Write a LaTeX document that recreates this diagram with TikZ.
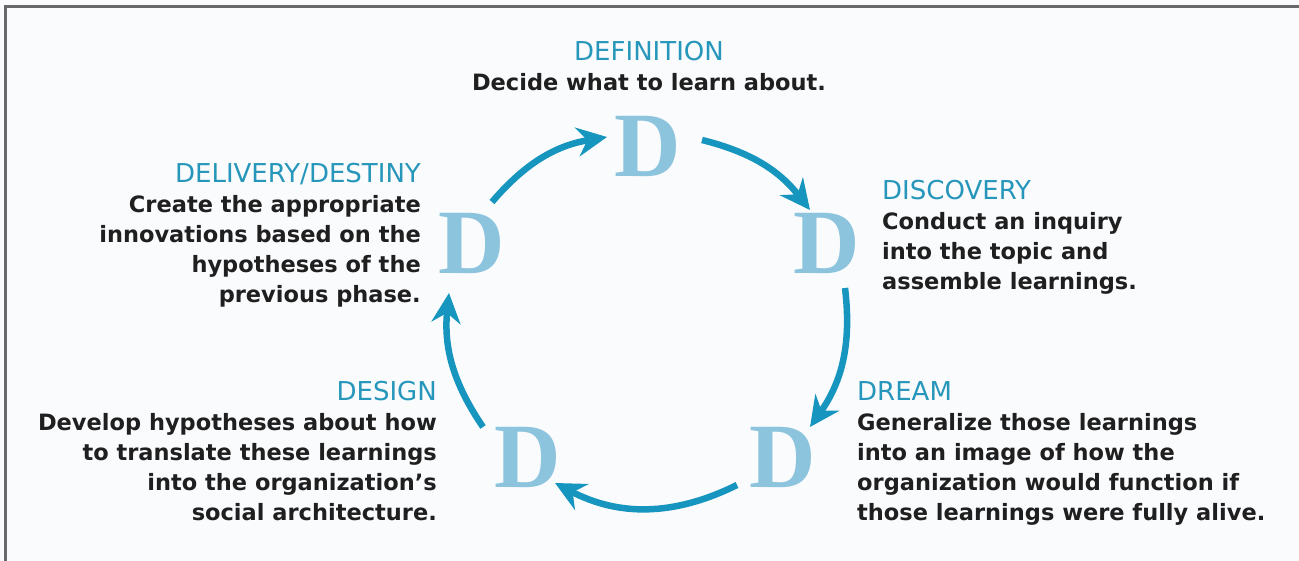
\documentclass[tikz,border=0pt]{standalone}
\usepackage{fontspec}
\usepackage{xcolor}
\usetikzlibrary{arrows.meta}
\newfontfamily\bodyfont{DejaVu Sans}
\newfontfamily\letterfont{Liberation Serif}
\definecolor{headblue}{RGB}{38,150,186}
\definecolor{ringblue}{RGB}{22,150,190}
\definecolor{dlight}{RGB}{140,196,222}
\definecolor{framegray}{RGB}{105,105,105}
\definecolor{paper}{RGB}{250,251,253}
\newcommand{\phasehead}[1]{{\fontsize{26}{30}\selectfont\mdseries\color{headblue}#1}}

\begin{document}
\begin{tikzpicture}[x=1pt, y=-1pt,
        letter/.style = {text=dlight, inner sep=0pt, font=\letterfont\bfseries\fontsize{92}{92}\selectfont},
        phase/.style = {inner sep=0pt, text=black!88, font=\bodyfont\bfseries\fontsize{22.5}{30}\selectfont},
        cyc/.style = {draw=ringblue, line width=6.5pt, -{Stealth[length=30pt,width=29pt,inset=10pt]}}]
    \useasboundingbox (0,0) rectangle (1299,561);
    \fill[paper] (0,0) rectangle (1299,561);
    \draw[framegray, line width=3pt] (5,561) -- (5,7) -- (1299,7);
    % the five D's
    \node[letter] (dt) at (648,146) {D};
    \node[letter] (dr) at (827,243) {D};
    \node[letter] (dbr) at (783,457) {D};
    \node[letter] (dbl) at (528,457) {D};
    \node[letter] (dl) at (472,243) {D};
    % ends of the ring arrows
    \coordinate (s1) at (702,140); \coordinate (e1) at (810,210);
    \coordinate (s2) at (845,288); \coordinate (e2) at (810,427);
    \coordinate (s3) at (737,485); \coordinate (e3) at (555,483);
    \coordinate (s4) at (483,427); \coordinate (e4) at (449,293);
    \coordinate (s5) at (492,202); \coordinate (e5) at (607,137);
    \draw[cyc] (s1) to[bend left=19] (e1);
    \draw[cyc] (s2) to[bend left=21] (e2);
    \draw[cyc] (s3) to[bend left=27] (e3);
    \draw[cyc] (s4) to[bend left=20] (e4);
    \draw[cyc] (s5) to[bend left=20] (e5);
    % phase texts
    \node[phase, anchor=north, align=center] (def) at (649,41)
        {\phasehead{DEFINITION}\\Decide what to learn about.};
    \node[phase, anchor=north west, align=left] (disc) at (882,180)
        {\phasehead{DISCOVERY}\\Conduct an inquiry\\into the topic and\\assemble learnings.};
    \node[phase, anchor=north west, align=left] (dream) at (857,381)
        {\phasehead{DREAM}\\Generalize those learnings\\into an image of how the\\organization would function if\\those learnings were fully alive.};
    \node[phase, anchor=north east, align=right] (design) at (437,381)
        {\phasehead{DESIGN}\\Develop hypotheses about how\\to translate these learnings\\into the organization’s\\social architecture.};
    \node[phase, anchor=north east, align=right] (deliv) at (421,163)
        {\phasehead{DELIVERY/DESTINY}\\Create the appropriate\\innovations based on the\\hypotheses of the\\previous phase.};
\end{tikzpicture}
\end{document}
